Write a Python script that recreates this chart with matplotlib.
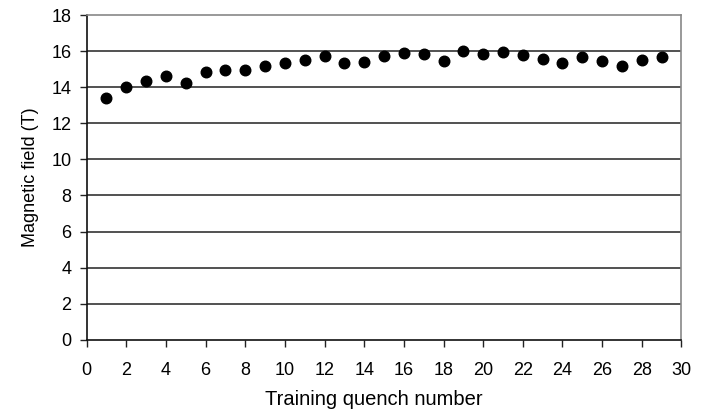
import matplotlib.pyplot as plt

plt.rcParams["font.family"] = ["DejaVu Sans Condensed", "Liberation Sans"]

quench = list(range(1, 30))
field = [13.4, 14.0, 14.34, 14.6, 14.23, 14.83, 14.94, 14.96, 15.2, 15.33,
         15.5, 15.71, 15.33, 15.4, 15.72, 15.87, 15.85, 15.47, 16.0, 15.85,
         15.95, 15.77, 15.59, 15.34, 15.68, 15.43, 15.17, 15.53, 15.66]

fig = plt.figure(figsize=(7.04, 4.17), dpi=100)
ax = fig.add_axes([0.123, 0.185, 0.845, 0.779])

for y in range(2, 18, 2):
    ax.axhline(y, color="#333333", lw=1.2, zorder=1)

ax.plot(quench, field, "o", color="black", ms=7.6, zorder=3)

ax.set_xlim(0, 30)
ax.set_ylim(0, 18)
ax.set_xticks(range(0, 31, 2))
ax.set_yticks(range(0, 19, 2))
ax.tick_params(labelsize=13, direction="out", length=5, width=1, color="#222222")
ax.tick_params(axis="x", pad=11)
ax.tick_params(axis="y", pad=6)

ax.spines["left"].set_color("#111111")
ax.spines["bottom"].set_color("#111111")
ax.spines["top"].set_color("#888888")
ax.spines["right"].set_color("#888888")
for s in ax.spines.values():
    s.set_linewidth(1.2)

ax.set_xlabel("Training quench number", fontsize=14.5)
ax.xaxis.set_label_coords(0.483, -0.155)
ax.set_ylabel("Magnetic field (T)", fontsize=13, labelpad=9)

fig.savefig("out.png", dpi=100)
